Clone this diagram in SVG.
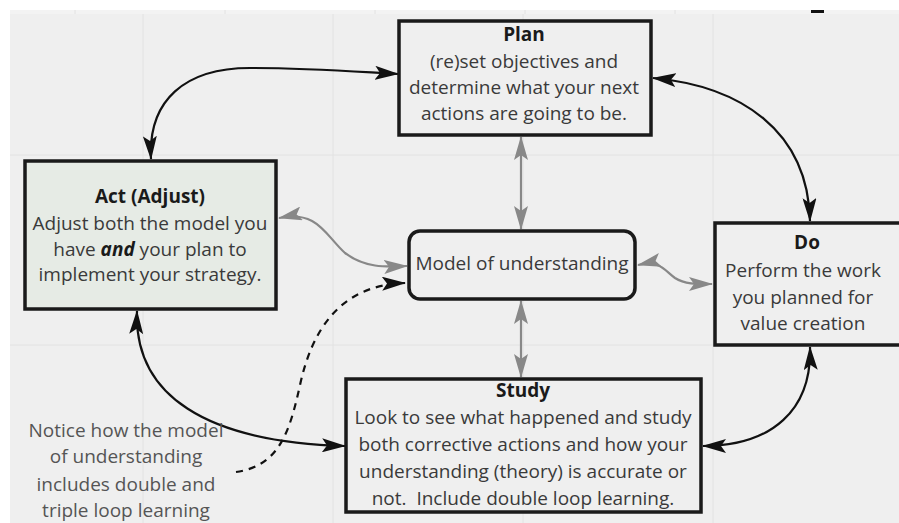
<svg xmlns="http://www.w3.org/2000/svg" width="899" height="523" viewBox="0 0 899 523">
  <style>
    .box { fill: #efefef; stroke: #1a1a1a; stroke-width: 3.5; }
    .act { fill: #e6ebe5; }
    .t { font-family: "Open Sans", "Noto Sans", "Liberation Sans", sans-serif; font-size: 19px; fill: #3a3a3a; text-anchor: middle; white-space: pre; }
    .h { font-weight: bold; fill: #1a1a1a; }
    .note { fill: #555555; }
    .blk { fill: none; stroke: #111111; stroke-width: 2.2; }
    .gry { fill: none; stroke: #888888; stroke-width: 2.2; }
    .dash { fill: none; stroke: #111111; stroke-width: 2.2; stroke-dasharray: 7 6; }
    .grid { stroke: #e2e2e2; stroke-width: 1; }
  </style>
  <defs>
    <marker id="ab" viewBox="0 0 24 14" refX="23" refY="7" markerWidth="24" markerHeight="14" markerUnits="userSpaceOnUse" orient="auto-start-reverse">
      <path d="M0,0 L24,7 L0,14 L5,7 Z" fill="#111111"/>
    </marker>
    <marker id="ag" viewBox="0 0 24 14" refX="23" refY="7" markerWidth="24" markerHeight="14" markerUnits="userSpaceOnUse" orient="auto-start-reverse">
      <path d="M0,0 L24,7 L0,14 L5,7 Z" fill="#888888"/>
    </marker>
  </defs>

  <!-- canvas -->
  <rect x="0" y="0" width="899" height="523" fill="#ffffff"/>
  <rect x="10" y="10" width="889" height="513" fill="#efefef"/>
  <rect x="10" y="10" width="889" height="4" fill="#f3f3f3"/>
  <g class="grid">
    <line x1="75" y1="10" x2="75" y2="14"/>
    <line x1="225" y1="10" x2="225" y2="14"/>
    <line x1="375" y1="10" x2="375" y2="14"/>
    <line x1="525" y1="10" x2="525" y2="14"/>
    <line x1="675" y1="10" x2="675" y2="14"/>
    <line x1="143" y1="14" x2="143" y2="523"/>
    <line x1="333" y1="14" x2="333" y2="523"/>
    <line x1="523" y1="14" x2="523" y2="523"/>
    <line x1="713" y1="14" x2="713" y2="523"/>
    <line x1="10" y1="155" x2="899" y2="155"/>
    <line x1="10" y1="345" x2="899" y2="345"/>
  </g>
  <rect x="811" y="10" width="13" height="3" fill="#111111"/>

  <!-- connectors -->
  <g id="connectors">
    <path class="blk" d="M151,159 C148,100 185,68 250,68 C310,68 360,72 398,74" marker-start="url(#ab)" marker-end="url(#ab)"/>
    <path class="blk" d="M653,78 C740,86 808,130 810,221" marker-start="url(#ab)" marker-end="url(#ab)"/>
    <path class="blk" d="M810,347 C812,410 772,446 703,446" marker-start="url(#ab)" marker-end="url(#ab)"/>
    <path class="blk" d="M137,311 C134,395 205,442 345,446" marker-start="url(#ab)" marker-end="url(#ab)"/>
    <path class="gry" d="M521,137 L521,229" marker-start="url(#ag)" marker-end="url(#ag)"/>
    <path class="gry" d="M521,301 L521,377" marker-start="url(#ag)" marker-end="url(#ag)"/>
    <path class="gry" d="M279,218 C318,210 325,235 345,253 C365,268 385,267 407,266" marker-start="url(#ag)" marker-end="url(#ag)"/>
    <path class="gry" d="M638,265 C660,260 664,270 675,278 C686,285 700,284 712,284" marker-start="url(#ag)" marker-end="url(#ag)"/>
    <path class="dash" d="M236,472 C280,466 290,430 300,385 C312,330 340,285 405,283" marker-end="url(#ab)"/>
  </g>

  <!-- nodes -->
  <g id="plan">
    <rect class="box" x="399" y="21" width="252" height="114"/>
    <text class="t h" x="524" y="41">Plan</text>
    <text class="t" x="524" y="68">(re)set objectives and</text>
    <text class="t" x="524" y="94">determine what your next</text>
    <text class="t" x="524" y="120">actions are going to be.</text>
  </g>
  <g id="act">
    <rect class="box act" x="25" y="161" width="251" height="148"/>
    <text class="t h" x="150" y="203">Act (Adjust)</text>
    <text class="t" x="150" y="230">Adjust both the model you</text>
    <text class="t" x="150" y="256">have <tspan font-weight="bold" font-style="italic" fill="#1a1a1a">and</tspan> your plan to</text>
    <text class="t" x="150" y="281">implement your strategy.</text>
  </g>
  <g id="model">
    <rect class="box" x="409" y="231" width="226" height="68" rx="11"/>
    <text class="t" x="522" y="270">Model of understanding</text>
  </g>
  <g id="do">
    <rect class="box" x="715" y="223" width="190" height="122"/>
    <text class="t h" x="807" y="249">Do</text>
    <text class="t" x="803" y="277">Perform the work</text>
    <text class="t" x="803" y="304">you planned for</text>
    <text class="t" x="803" y="330">value creation</text>
  </g>
  <g id="study">
    <rect class="box" x="346" y="379" width="355" height="133"/>
    <text class="t h" x="523" y="397">Study</text>
    <text class="t" x="523" y="424">Look to see what happened and study</text>
    <text class="t" x="523" y="451">both corrective actions and how your</text>
    <text class="t" x="523" y="478">understanding (theory) is accurate or</text>
    <text class="t" x="523" y="505">not.  Include double loop learning.</text>
  </g>
  <g id="note">
    <text class="t note" x="126" y="437">Notice how the model</text>
    <text class="t note" x="126" y="463">of understanding</text>
    <text class="t note" x="126" y="491">includes double and</text>
    <text class="t note" x="126" y="517">triple loop learning</text>
  </g>
</svg>
